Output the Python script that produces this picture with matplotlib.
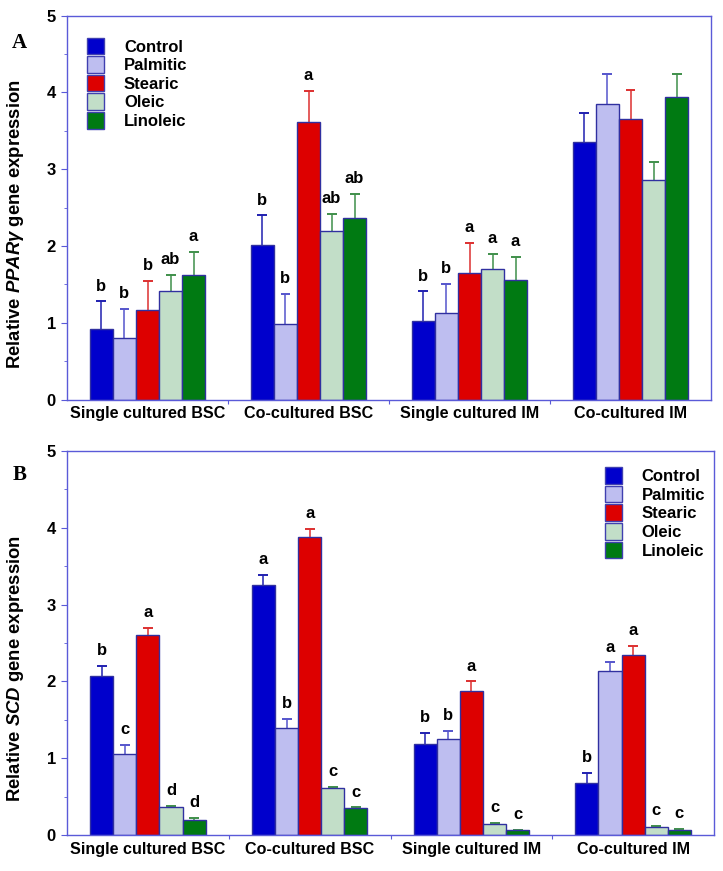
import matplotlib
matplotlib.use('Agg')
import matplotlib.pyplot as plt
from matplotlib.patches import Patch
import numpy as np

plt.rcParams['font.family'] = ['Liberation Sans', 'DejaVu Sans']
plt.rcParams['mathtext.fontset'] = 'custom'
plt.rcParams['mathtext.it'] = 'Liberation Sans:italic:bold'
plt.rcParams['mathtext.rm'] = 'Liberation Sans:bold'

groups = ['Single cultured BSC', 'Co-cultured BSC', 'Single cultured IM', 'Co-cultured IM']
treatments = ['Control', 'Palmitic', 'Stearic', 'Oleic', 'Linoleic']

# Panel A: PPARgamma (rows = treatment, cols = group)
ppar_mean = np.array([
    [0.92, 2.01, 1.02, 3.36],
    [0.80, 0.99, 1.13, 3.85],
    [1.16, 3.62, 1.65, 3.65],
    [1.41, 2.19, 1.70, 2.86],
    [1.62, 2.37, 1.56, 3.94],
])
ppar_err = np.array([
    [0.36, 0.39, 0.39, 0.37],
    [0.38, 0.39, 0.38, 0.39],
    [0.39, 0.40, 0.39, 0.38],
    [0.21, 0.23, 0.20, 0.23],
    [0.30, 0.31, 0.30, 0.30],
])
ppar_letters = [
    ['b', 'b', 'b', ''],
    ['b', 'b', 'b', ''],
    ['b', 'a', 'a', ''],
    ['ab', 'ab', 'a', ''],
    ['a', 'ab', 'a', ''],
]

# Panel B: SCD
scd_mean = np.array([
    [2.07, 3.26, 1.19, 0.68],
    [1.06, 1.39, 1.25, 2.13],
    [2.61, 3.88, 1.88, 2.35],
    [0.36, 0.61, 0.14, 0.10],
    [0.20, 0.35, 0.06, 0.07],
])
scd_err = np.array([
    [0.13, 0.13, 0.14, 0.13],
    [0.11, 0.12, 0.11, 0.12],
    [0.09, 0.11, 0.12, 0.11],
    [0.02, 0.02, 0.02, 0.02],
    [0.02, 0.01, 0.01, 0.01],
])
scd_letters = [
    ['b', 'a', 'b', 'b'],
    ['c', 'b', 'b', 'a'],
    ['a', 'a', 'a', 'a'],
    ['d', 'c', 'c', 'c'],
    ['d', 'c', 'c', 'c'],
]

colors = ['#0000cc', '#bebef0', '#dd0000', '#c2dec8', '#007a12']
err_colors = ['#2020b0', '#5555cc', '#dd3030', '#3f8f4a', '#3f8f4a']
edge = '#3030a0'
spine_col = '#5a5ad8'


def draw_panel(ax, mean, err, letters, ylabel, label_y, legend_anchor):
    width = 0.143
    cap = 0.062
    centers = np.arange(len(groups)) + 0.5
    for i in range(len(treatments)):
        x = centers + (i - 2) * width
        ax.bar(x, mean[i], width, color=colors[i], edgecolor=edge, linewidth=1.0,
               zorder=2)
        # upper error bars only
        ax.vlines(x, mean[i], mean[i] + err[i], color=err_colors[i], lw=1.1, zorder=1)
        ax.hlines(mean[i] + err[i], x - cap / 2, x + cap / 2, color=err_colors[i],
                  lw=1.4, zorder=1)
        for j in range(len(groups)):
            if letters[i][j]:
                ax.text(x[j], mean[i][j] + err[i][j] + 0.1, letters[i][j],
                        ha='center', va='bottom', fontsize=12, fontweight='bold')
    ax.set_xlim(0, 4)
    ax.set_ylim(0, 5)
    ax.set_xticks([1, 2, 3])
    ax.set_xticklabels([])
    ax.set_xticks(centers, minor=True)
    ax.set_xticklabels(groups, minor=True, fontsize=11.6, fontweight='bold')
    ax.tick_params(axis='x', which='major', length=3, color=spine_col)
    ax.tick_params(axis='x', which='minor', length=0, pad=5)
    ax.set_yticks(range(6))
    ax.set_yticks(np.arange(0.5, 5, 1.0), minor=True)
    ax.set_yticklabels([str(v) for v in range(6)], fontsize=12, fontweight='bold')
    ax.tick_params(axis='y', which='major', length=4, color=spine_col, pad=4)
    ax.tick_params(axis='y', which='minor', length=2.5, color=spine_col)
    for s in ax.spines.values():
        s.set_color(spine_col)
        s.set_linewidth(1.0)
    ax.set_ylabel(ylabel, fontsize=13.3, fontweight='bold')
    ax.yaxis.set_label_coords(-0.064, label_y)
    handles = [Patch(facecolor=colors[i], edgecolor='#4040b0', label=treatments[i])
               for i in range(len(treatments))]
    ax.legend(handles=handles, loc='upper left', bbox_to_anchor=legend_anchor,
              frameon=False, prop={'weight': 'bold', 'size': 12},
              handlelength=1.0, handleheight=1.15, labelspacing=0.1,
              handletextpad=1.2, borderaxespad=0)


fig = plt.figure(figsize=(7.23, 8.71), dpi=100)
ax1 = fig.add_axes([0.0927, 0.5413, 0.8907, 0.4407])
ax2 = fig.add_axes([0.0927, 0.0413, 0.8949, 0.4409])

draw_panel(ax1, ppar_mean, ppar_err, ppar_letters,
           r'Relative $\mathit{PPAR\gamma}$ gene expression', 0.456, (0.021, 0.96))
draw_panel(ax2, scd_mean, scd_err, scd_letters,
           r'Relative $\mathit{SCD}$ gene expression', 0.435, (0.821, 0.975))

fig.text(0.017, 0.945, 'A', fontsize=15, fontweight='bold', family='Liberation Serif')
fig.text(0.017, 0.449, 'B', fontsize=15, fontweight='bold', family='Liberation Serif')

fig.savefig('out.png', dpi=100)
